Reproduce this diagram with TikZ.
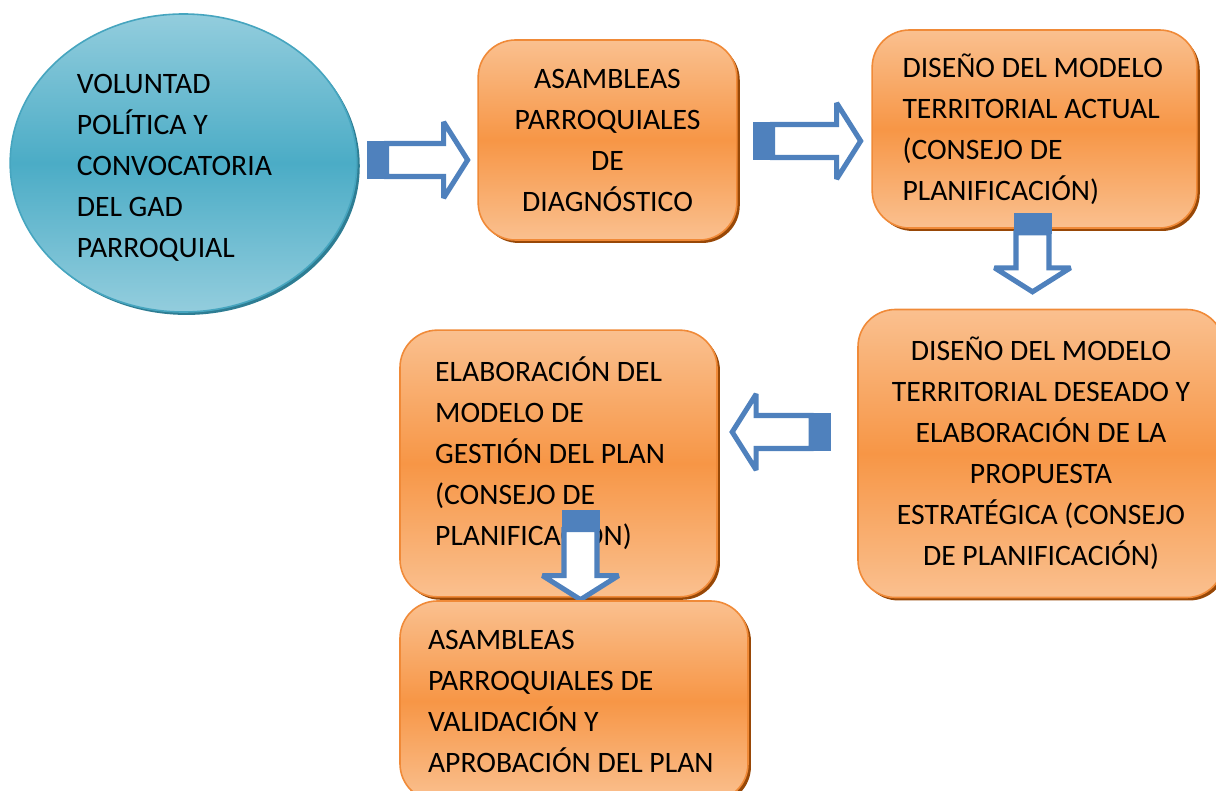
\documentclass[tikz,border=0pt]{standalone}
\usepackage{fontspec}
\setmainfont{Carlito}
\usetikzlibrary{shapes.geometric,shadows,calc}

\definecolor{boxlight}{HTML}{FAC08F}
\definecolor{boxmid}{HTML}{F79646}
\definecolor{boxline}{HTML}{F08A38}
\definecolor{boxshadow}{HTML}{984807}
\definecolor{elllight}{HTML}{93CDDD}
\definecolor{ellmid}{HTML}{4BACC6}
\definecolor{ellline}{HTML}{46A5BF}
\definecolor{ellshadow}{HTML}{2E7D93}
\definecolor{arrowblue}{HTML}{4F81BD}

\newcommand{\stagefont}{\fontsize{22.25}{30.75}\selectfont\hyphenpenalty=10000\relax}

\tikzset{
  stage/.style={draw=boxline, line width=1.2pt, rounded corners=28pt,
    top color=boxlight, bottom color=boxlight, middle color=boxmid,
    drop shadow={shadow xshift=2.2pt, shadow yshift=-2.2pt, fill=boxshadow, opacity=1},
    inner sep=0pt, font=\stagefont},
  start/.style={ellipse, draw=ellline, line width=1.2pt,
    top color=elllight, bottom color=elllight, middle color=ellmid,
    drop shadow={shadow xshift=2.2pt, shadow yshift=-2.2pt, fill=ellshadow, opacity=1},
    inner sep=0pt, font=\stagefont},
  pics/fatarrow/.style={code={
    \draw[arrowblue, line width=3.8pt, fill=white, line join=miter, miter limit=3]
      (20,-16.5) -- (#1-27,-16.5) -- (#1-27,-38) -- (#1-3,0)
      -- (#1-27,38) -- (#1-27,16.5) -- (20,16.5) -- cycle;
    \fill[arrowblue] (0,-19) rectangle (21,19);
  }}
}

\begin{document}
\begin{tikzpicture}[x=0.75pt,y=-0.75pt]
\useasboundingbox (0,0) rectangle (1216,791);

% stages
\node[start, minimum width=260pt, minimum height=223.5pt, text width=160pt, align=flush left]
  (vol) at (183.5,163) {\mbox{}\\[-8.5pt]VOLUNTAD\\POLÍTICA Y\\CONVOCATORIA\\DEL GAD\\PARROQUIAL};
\node[stage, minimum width=194pt, minimum height=150pt, text width=185pt, align=flush center]
  (diag) at (607.5,140) {ASAMBLEAS\\PARROQUIALES\\DE\\DIAGNÓSTICO};
\node[stage, minimum width=243.5pt, minimum height=148.5pt, text width=198pt, align=flush left]
  (actual) at (1034.5,129) {DISEÑO DEL MODELO\\TERRITORIAL ACTUAL\\(CONSEJO DE\\PLANIFICACIÓN)};
\node[stage, minimum width=274.5pt, minimum height=216pt, text width=255pt, align=flush center]
  (deseado) at (1041,453.5) {DISEÑO DEL MODELO\\TERRITORIAL DESEADO Y\\ELABORACIÓN DE LA\\PROPUESTA\\ESTRATÉGICA (CONSEJO\\DE PLANIFICACIÓN)};
\node[stage, minimum width=237.75pt, minimum height=200pt, text width=185pt, align=flush left]
  (gestion) at (558.5,463.5) {ELABORACIÓN DEL\\MODELO DE\\GESTIÓN DEL PLAN\\(CONSEJO DE\\PLANIFICACIÓN)\\[-12pt]\mbox{}};

% block arrows
\pic at ($(vol.east)+(9,-3)$) {fatarrow=104};
\pic at ($(diag.east)+(15,1)$) {fatarrow=111};
\pic[rotate=-90] at ($(actual.south)+(-2,-16)$) {fatarrow=82};
\pic[rotate=180] at ($(deseado.west)+(-26,-21.5)$) {fatarrow=102};
\pic[rotate=-90] at ($(gestion.south)+(22,-88)$) {fatarrow=93};

\node[stage, minimum width=261pt, minimum height=150pt, text width=219pt, align=flush left]
  (valid) at (574,701) {ASAMBLEAS\\PARROQUIALES DE\\VALIDACIÓN Y\\APROBACIÓN DEL PLAN};

\end{tikzpicture}
\end{document}
